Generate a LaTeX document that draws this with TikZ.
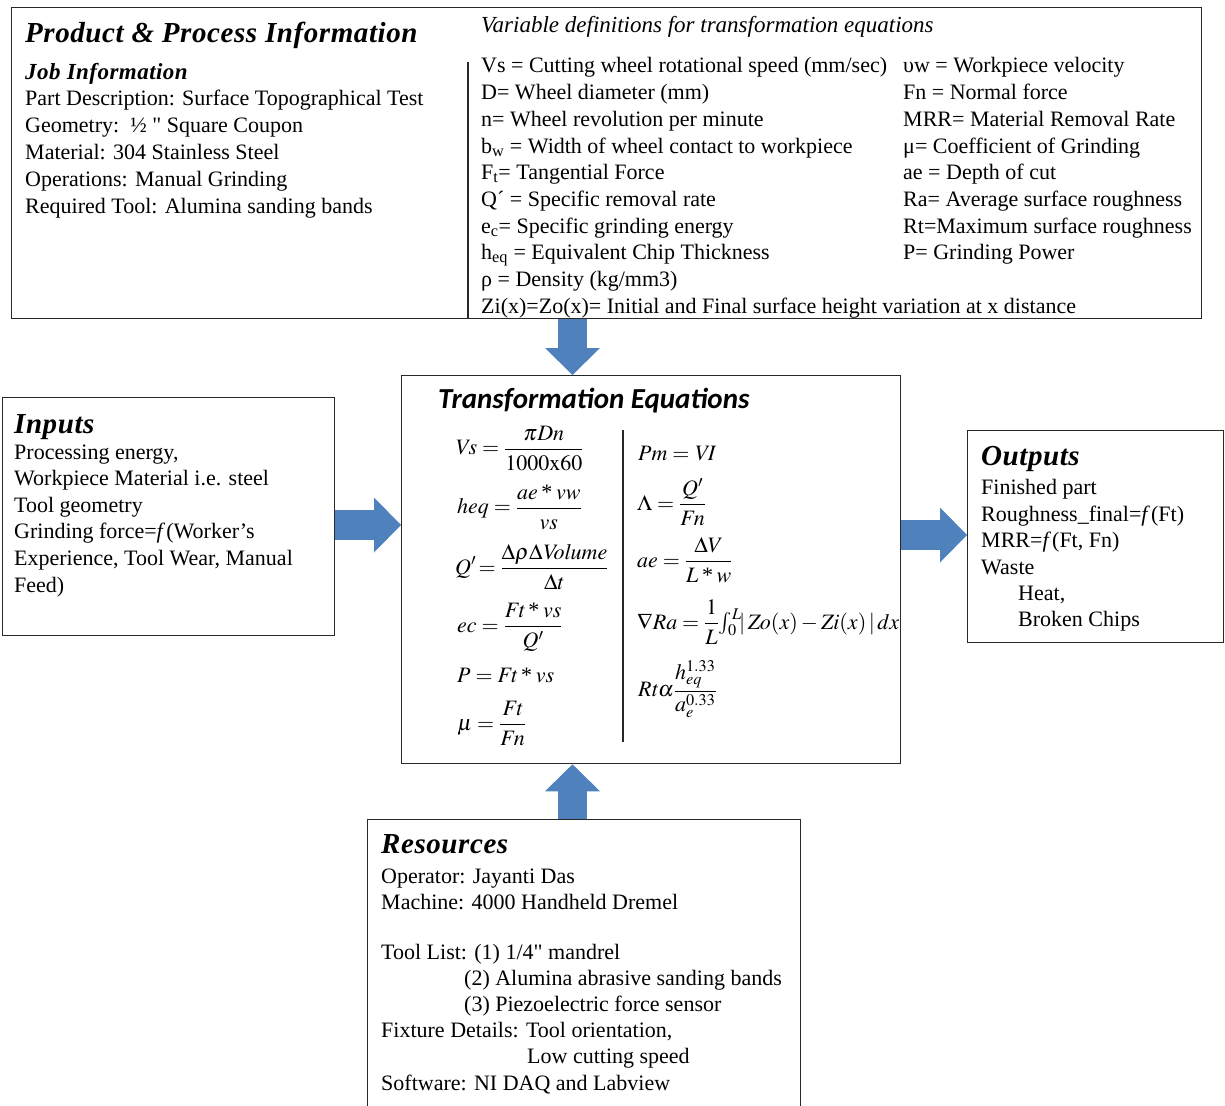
\documentclass[tikz,border=0pt]{standalone}
\usepackage{mathptmx}
\usepackage{fontspec}
\setmainfont{Liberation Serif}
\newfontfamily\headfont[LetterSpace=2]{Liberation Serif}
\newfontfamily\calfont{Carlito}
\usetikzlibrary{arrows.meta,calc}
\pgfdeclarelayer{bg}
\pgfsetlayers{bg,main}
\definecolor{arrowblue}{RGB}{79,129,189}
\definecolor{boxline}{RGB}{40,40,40}
\newcommand\vn[1]{\mathit{#1}}
\newcommand\astx{\mbox{\,*\,}}
\begin{document}
\begin{tikzpicture}[x=1pt,y=-1pt,
  box/.style={draw=boxline,line width=1.3pt,inner sep=0pt,anchor=north west},
  txt/.style={anchor=base west,inner sep=0pt,font=\fontsize{22}{26}\selectfont},
  itxt/.style={anchor=base west,inner sep=0pt,font=\fontsize{23}{26}\selectfont\itshape},
  hd/.style={anchor=base west,inner sep=0pt,font=\fontsize{29}{34}\selectfont\headfont\bfseries\itshape},
  subhd/.style={anchor=base west,inner sep=0pt,font=\fontsize{23}{26}\selectfont\headfont\bfseries\itshape},
  eqhd/.style={anchor=base west,inner sep=0pt,font=\fontsize{29}{34}\selectfont\calfont\bfseries\itshape},
  eqn/.style={anchor=west,inner sep=0pt,font=\fontsize{22}{26}\selectfont},
  divider/.style={draw=boxline,line width=1.3pt},
  fat/.style={draw=arrowblue,line width=29.5pt,-{Triangle[length=27pt,width=55pt,line width=0pt 0,fill=arrowblue]}}]
\useasboundingbox (0,0) rectangle (1225,1105);
\clip (0,0) rectangle (1225,1105);

% boxes
\node[box,minimum width=1190pt,minimum height=311pt] (top) at (11,7) {};
\node[box,minimum width=499pt,minimum height=388pt] (eq) at (401,375) {};
\node[box,minimum width=332pt,minimum height=238pt] (inp) at (2,397) {};
\node[box,minimum width=256pt,minimum height=212pt] (out) at (967,430) {};
\node[box,minimum width=433pt,minimum height=320pt] (res) at (367,819) {};

% dividers
\coordinate (dv1) at (468,62);
\draw[divider] (dv1) -- (dv1 |- top.south);
\coordinate (dv2a) at (623,430);
\coordinate (dv2b) at (623,742);
\draw[divider] (dv2a) -- (dv2b);

% fat arrows
\coordinate (vx) at (572.5,0);
\coordinate (hy1) at (0,525);
\coordinate (hy2) at (0,535);
\begin{pgfonlayer}{bg}
\draw[fat] (top.south -| vx) -- (eq.north -| vx);
\draw[fat] (res.north -| vx) -- (eq.south -| vx);
\draw[fat] (inp.east |- hy1) -- (eq.west |- hy1);
\draw[fat] (eq.east |- hy2) -- (out.west |- hy2);
\end{pgfonlayer}

% top box, left
\node[hd] (ttitle) at (25,43) {Product \& Process Information};
\node[subhd] (tjob) at (25,80) {Job Information};
\foreach \t [count=\i] in {{Part Description: Surface Topographical Test},{Geometry:\ \ ½ \textquotedbl\ Square Coupon},{Material: 304 Stainless Steel},{Operations: Manual Grinding},{Required Tool: Alumina sanding bands}}
  \node[txt] (tj\i) at (25,{106+26.75*(\i-1)}) {\t};

% top box, right
\node[itxt] (tvar) at (481,33) {Variable definitions for transformation equations};
\foreach \t [count=\i] in {{Vs = Cutting wheel rotational speed (mm/sec)},{D= Wheel diameter (mm)},{n= Wheel revolution per minute},{b\textsubscript{w} = Width of wheel contact to workpiece},{F\textsubscript{t}= Tangential Force},{Q´ = Specific removal rate},{e\textsubscript{c}= Specific grinding energy},{h\textsubscript{eq} = Equivalent Chip Thickness},{ρ = Density (kg/mm3)},{Zi(x)=Zo(x)= Initial and Final surface height variation at x distance}}
  \node[txt] (va\i) at (481,{73+26.67*(\i-1)}) {\t};
\foreach \t [count=\i] in {{υw = Workpiece velocity},{Fn = Normal force},{MRR= Material Removal Rate},{μ= Coefficient of Grinding},{ae = Depth of cut},{Ra= Average surface roughness},{Rt=Maximum surface roughness},{P= Grinding Power}}
  \node[txt] (vb\i) at (903,{73+26.67*(\i-1)}) {\t};

% transformation equations
\node[eqhd] (eqtitle) at (438,408) {Transformation Equations};
\node[eqn] (e1) at (455,448) {$\displaystyle \vn{Vs}=\frac{\pi\vn{Dn}}{1000\mathrm{x}60}$};
\node[eqn] (e2) at (457,507) {$\displaystyle \vn{heq}=\frac{\vn{ae}\astx\vn{vw}}{\vn{vs}}$};
\node[eqn] (e3) at (455,567) {$\displaystyle Q'\!=\frac{\Delta\rho\Delta\vn{Volume}}{\Delta t}$};
\node[eqn] (e4) at (457,627) {$\displaystyle \vn{ec}=\frac{\vn{Ft}\astx\vn{vs}}{Q'}$};
\node[eqn] (e5) at (457,675) {$P=\vn{Ft}\astx\vn{vs}$};
\node[eqn] (e6) at (457,723) {$\displaystyle \mu=\frac{\vn{Ft}}{\vn{Fn}}$};
\node[eqn] (e7) at (638,453) {$\vn{Pm}=\vn{VI}$};
\node[eqn] (e8) at (637,502) {$\displaystyle \Lambda=\frac{Q'}{\vn{Fn}}$};
\node[eqn] (e9) at (637,560) {$\displaystyle \vn{ae}=\frac{\Delta V}{L\astx w}$};
\node[eqn] (e10) at (637,622) {$\displaystyle \nabla\vn{Ra}=\frac{1}{L}{\textstyle\int_0^{L}}\!|\,\vn{Zo}(x)-\vn{Zi}(x)\,|\,dx$};
\node[eqn] (e11) at (638,689) {$\displaystyle \vn{Rt}\alpha\frac{h_{\vn{eq}}^{1.33}}{a_e^{0.33}}$};

% inputs
\node[hd] (ihd) at (14,433) {Inputs};
\foreach \t [count=\i] in {{Processing energy,},{Workpiece Material i.e. steel},{Tool geometry},{Grinding force=\textit{f}\kern1pt(Worker’s},{Experience, Tool Wear, Manual},{Feed)}}
  \node[txt] (in\i) at (14,{459+26.6*(\i-1)}) {\t};

% outputs
\node[hd] (ohd) at (981,465) {Outputs};
\node[txt] (o1) at (981,494) {Finished part};
\node[txt] (o2) at (981,521) {Roughness\_final=\textit{f}\kern1pt(Ft)};
\node[txt] (o3) at (981,547) {MRR=\textit{f}\kern1pt(Ft, Fn)};
\node[txt] (o4) at (981,574) {Waste};
\node[txt] (o5) at (1018,600) {Heat,};
\node[txt] (o6) at (1018,626) {Broken Chips};

% resources
\node[hd] (rhd) at (381,853) {Resources};
\node[txt] (r1) at (381,883) {Operator: Jayanti Das};
\node[txt] (r2) at (381,909) {Machine: 4000 Handheld Dremel};
\node[txt] (r3) at (381,959) {Tool List: (1) 1/4\textquotedbl\ mandrel};
\node[txt] (r4) at (464,985) {(2) Alumina abrasive sanding bands};
\node[txt] (r5) at (464,1011) {(3) Piezoelectric force sensor};
\node[txt] (r6) at (381,1037) {Fixture Details: Tool orientation,};
\node[txt] (r7) at (527,1063) {Low cutting speed};
\node[txt] (r8) at (381,1090) {Software: NI DAQ and Labview};
\end{tikzpicture}
\end{document}
